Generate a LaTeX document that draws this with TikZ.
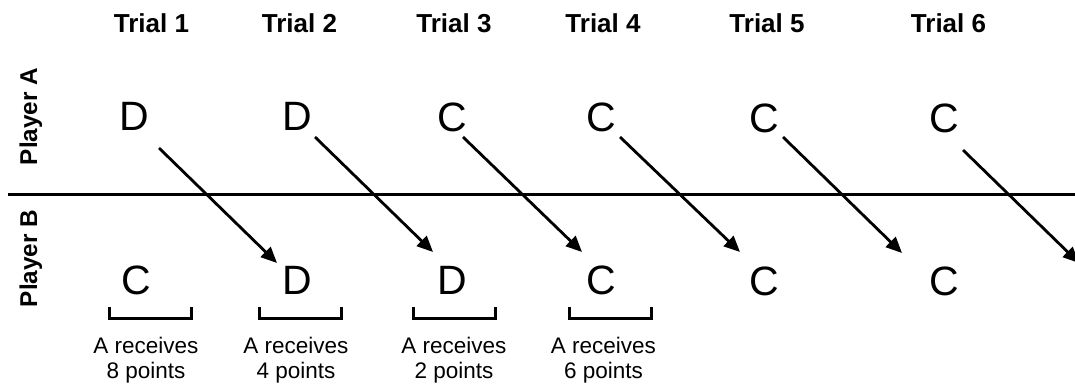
\documentclass[tikz,border=0pt]{standalone}
\usepackage{fontspec}
\setmainfont{Liberation Sans}
\usetikzlibrary{arrows.meta}
\begin{document}
\begin{tikzpicture}[x=1pt,y=-1pt,
  trial/.style={font=\fontsize{26}{30}\selectfont\bfseries, anchor=base, inner sep=0pt},
  player/.style={font=\fontsize{24.3}{28}\selectfont\bfseries, anchor=base, rotate=90, inner sep=0pt},
  move/.style={font=\fontsize{41}{46}\selectfont, inner sep=0pt},
  payoff/.style={font=\fontsize{22.5}{25}\selectfont, align=center, anchor=base, inner sep=0pt},
  arr/.style={line width=2.8pt, -{Triangle[length=16pt,width=14pt]}},
  bracketline/.style={line width=2.8pt},
]
\useasboundingbox[fill=white] (0,0) rectangle (1075,386);

% trial headers
\node[trial] (t1) at (151.5,32) {Trial 1};
\node[trial] (t2) at (299.5,32) {Trial 2};
\node[trial] (t3) at (454,32) {Trial 3};
\node[trial] (t4) at (603,32) {Trial 4};
\node[trial] (t5) at (767,32) {Trial 5};
\node[trial] (t6) at (948.5,32) {Trial 6};

% players
\node[player] (pa) at (37,116.5) {Player A};
\node[player] (pb) at (37,258.5) {Player B};

% divider
\draw[line width=3pt] (8,194) -- (1075,194);

% player A moves
\node[move] (a1) at (134,116) {D};
\node[move] (a2) at (297,116) {D};
\node[move] (a3) at (452,117) {C};
\node[move] (a4) at (601,117) {C};
\node[move] (a5) at (764,118) {C};
\node[move] (a6) at (944,118) {C};

% player B moves
\node[move] (b1) at (136,280) {C};
\node[move] (b2) at (297,280) {D};
\node[move] (b3) at (452,280) {D};
\node[move] (b4) at (601,280) {C};
\node[move] (b5) at (764,281) {C};
\node[move] (b6) at (944,281) {C};

% arrow endpoints
\coordinate (s1) at (159,148); \coordinate (e1) at (277,263);
\coordinate (s2) at (315,137); \coordinate (e2) at (433,252);
\coordinate (s3) at (463,137); \coordinate (e3) at (582,252);
\coordinate (s4) at (620,137); \coordinate (e4) at (740,252);
\coordinate (s5) at (783,137); \coordinate (e5) at (902,253);
\coordinate (s6) at (963,150); \coordinate (e6) at (1079,263);

\draw[arr] (s1) -- (e1);
\draw[arr] (s2) -- (e2);
\draw[arr] (s3) -- (e3);
\draw[arr] (s4) -- (e4);
\draw[arr] (s5) -- (e5);
\draw[arr] (s6) -- (e6);

% brackets
\foreach \cx in {150.5,300.5,454.5,610.5}{
  \draw[bracketline] (\cx-41,307) -- (\cx-41,318.5) -- (\cx+41,318.5) -- (\cx+41,307);
}

% payoffs
\node[payoff] (p1) at (146,378) {A receives\\8 points};
\node[payoff] (p2) at (296,378) {A receives\\4 points};
\node[payoff] (p3) at (454,378) {A receives\\2 points};
\node[payoff] (p4) at (603.5,378) {A receives\\6 points};
\end{tikzpicture}
\end{document}
